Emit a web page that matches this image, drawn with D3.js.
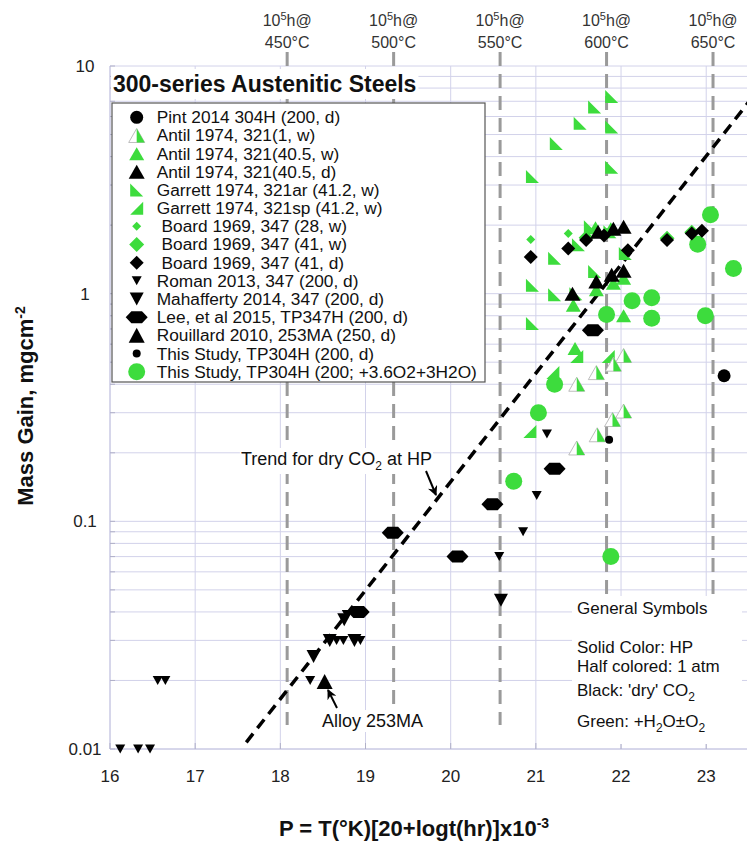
<!DOCTYPE html>
<html>
<head>
<meta charset="utf-8">
<script src="https://cdn.jsdelivr.net/npm/d3@7"></script>
<style>
  html, body { margin: 0; padding: 0; background: #fff; }
  svg { display: block; font-family: "Liberation Sans", Arial, Helvetica, sans-serif; }
</style>
</head>
<body>
<svg id="chart" width="747" height="845"></svg>
<script>
// Larson-Miller style parameter P against mass gain for 300-series steels in CO2

// ---- axis ticks ----
const xTicks = [16, 17, 18, 19, 20, 21, 22, 23];
const yTicks = [0.01, 0.1, 1, 10];
const yTickLabels = ["0.01", "0.1", "1", "10"];

// ---- 10^5 h iso-temperature markers ----
const isoTemps = ["450°C", "500°C", "550°C", "600°C", "650°C"];
const isoP = [18.08, 19.33, 20.58, 21.83, 23.08];

// ---- trend for dry CO2 at high pressure ----
const trendP = [17.6, 23.5];
const trendMass = [0.0107, 6.96];

// ---- series data: [P, mass gain mg/cm2] ----
const pint2014 = [[23.21, 0.436]];
const antil1w = [[22.03, 0.535], [21.91, 0.49], [21.71, 0.45], [21.48, 0.40],
                 [22.03, 0.305], [21.90, 0.28], [21.72, 0.24], [21.48, 0.21]];
const antil405w = [[21.44, 0.89], [21.91, 1.11], [22.03, 1.17], [22.03, 0.80],
                   [21.46, 0.575], [21.71, 1.04], [21.88, 1.93], [21.70, 1.95]];
const antil405d = [[22.03, 1.97], [21.91, 1.93], [21.73, 1.87], [21.89, 1.21],
                   [22.03, 1.26], [21.71, 1.13], [21.43, 1.00]];
const garrettAr = [[21.89, 7.35], [21.69, 6.6], [21.52, 5.6], [21.24, 4.57],
                   [21.89, 5.4], [21.89, 3.59], [20.96, 3.27], [21.22, 1.43],
                   [20.96, 1.09], [21.22, 0.99], [20.96, 0.74], [21.69, 1.25],
                   [21.64, 1.97], [21.50, 1.64], [21.87, 1.87], [22.05, 1.50], [21.47, 1.00]];
const garrettSp = [[20.93, 0.248], [21.20, 0.45], [21.85, 0.53], [21.48, 0.53]];
const board28w = [[20.94, 1.73], [21.38, 1.84]];
const board41w = [[22.54, 1.75], [22.83, 1.86], [21.59, 1.76]];
const board41d = [[20.94, 1.45], [21.38, 1.58], [21.59, 1.72], [21.80, 1.80],
                  [22.08, 1.55], [22.54, 1.72], [22.83, 1.84], [22.95, 1.89]];
const roman2013 = [[16.12, 0.01], [16.33, 0.01], [16.47, 0.01], [16.56, 0.02], [16.65, 0.02],
                   [18.35, 0.02], [18.66, 0.03], [18.74, 0.03], [18.94, 0.03], [18.78, 0.039],
                   [20.57, 0.07], [20.85, 0.09], [21.01, 0.13], [21.13, 0.242]];
const mahafferty2014 = [[18.39, 0.0255], [18.58, 0.03], [18.87, 0.03], [18.75, 0.037], [20.59, 0.045]];
const lee2015 = [[18.92, 0.04], [19.32, 0.089], [20.08, 0.07], [20.49, 0.119], [21.22, 0.17], [21.67, 0.69]];
const rouillard2010 = [[18.52, 0.0198]];
const studyDry = [[21.86, 0.228]];
const studyWet = [[20.74, 0.15], [21.03, 0.30], [21.22, 0.40], [21.88, 0.07], [21.83, 0.81],
                  [22.13, 0.93], [22.36, 0.96], [22.36, 0.78], [22.99, 0.80], [23.32, 1.29],
                  [22.90, 1.65], [23.05, 2.22]];

// ---- legend labels ----
const legendLabels = [
  "Pint 2014 304H (200, d)",
  "Antil 1974, 321(1, w)",
  "Antil 1974, 321(40.5, w)",
  "Antil 1974, 321(40.5, d)",
  "Garrett 1974, 321ar (41.2, w)",
  "Garrett 1974, 321sp (41.2, w)",
  " Board 1969, 347 (28, w)",
  " Board 1969, 347 (41, w)",
  " Board 1969, 347 (41, d)",
  "Roman 2013, 347 (200, d)",
  "Mahafferty 2014, 347 (200, d)",
  "Lee, et al 2015, TP347H (200, d)",
  "Rouillard 2010, 253MA (250, d)",
  "This Study, TP304H (200, d)",
  "This Study, TP304H (200; +3.6O2+3H2O)"
];

const GREEN = "#3ddc3d";
const BLACK = "#000";

// marker specs, in legend order
const series = [
  { data: pint2014,       shape: "circle",  w: 13, h: 13, fill: BLACK },
  { data: antil1w,        shape: "half",    w: 16, h: 14, fill: GREEN },
  { data: antil405w,      shape: "triUp",   w: 15, h: 13, fill: GREEN },
  { data: antil405d,      shape: "triUp",   w: 16, h: 14, fill: BLACK },
  { data: garrettAr,      shape: "triAr",   w: 13, h: 13, fill: GREEN },
  { data: garrettSp,      shape: "triSp",   w: 13, h: 13, fill: GREEN },
  { data: board28w,       shape: "diamond", w: 9,  h: 9,  fill: GREEN },
  { data: board41w,       shape: "diamond", w: 15, h: 15, fill: GREEN },
  { data: board41d,       shape: "diamond", w: 14, h: 14, fill: BLACK },
  { data: roman2013,      shape: "triDown", w: 10, h: 9,  fill: BLACK },
  { data: mahafferty2014, shape: "triDown", w: 14, h: 13, fill: BLACK },
  { data: lee2015,        shape: "hexagon", w: 22, h: 12, fill: BLACK },
  { data: rouillard2010,  shape: "triUp",   w: 16, h: 15, fill: BLACK },
  { data: studyDry,       shape: "circle",  w: 8,  h: 8,  fill: BLACK },
  { data: studyWet,       shape: "circle",  w: 17, h: 17, fill: GREEN }
];
// green marks first so the black ones sit on top
const drawOrder = [4, 5, 2, 1, 6, 7, 14, 0, 3, 8, 9, 10, 11, 12, 13];

function shapePath(shape, w, h) {
  const a = w / 2, b = h / 2;
  switch (shape) {
    case "circle": return `M${a},0A${a},${b},0,1,1,${-a},0A${a},${b},0,1,1,${a},0Z`;
    case "triUp": case "half": return `M0,${-b}L${a},${b}L${-a},${b}Z`;
    case "triDown": return `M${-a},${-b}L${a},${-b}L0,${b}Z`;
    case "triAr": return `M${-a},${-b}L${a},${b}L${-a},${b}Z`;
    case "triSp": return `M${a},${-b}L${a},${b}L${-a},${b}Z`;
    case "diamond": return `M0,${-b}L${a},0L0,${b}L${-a},0Z`;
    case "hexagon": {
      const k = b * 0.95;
      return `M${-a},0L${-a + k},${-b}L${a - k},${-b}L${a},0L${a - k},${b}L${-a + k},${b}Z`;
    }
  }
}
const halfRightPath = (w, h) => `M0,${-h / 2}L${w / 2},${h / 2}L0,${h / 2}Z`;

function drawMarker(sel, s) {
  if (s.shape === "half") {
    sel.append("path").attr("d", shapePath("triUp", s.w, s.h))
      .attr("fill", "#fff").attr("stroke", "#b5b5b5").attr("stroke-width", 0.9);
    sel.append("path").attr("d", halfRightPath(s.w, s.h)).attr("fill", s.fill);
  } else {
    sel.append("path").attr("d", shapePath(s.shape, s.w, s.h)).attr("fill", s.fill);
  }
}

// ---- layout & scales ----
const svg = d3.select("#chart");
const x = d3.scaleLinear().domain([16, 23.5]).range([110, 748.8]);
const y = d3.scaleLog().domain([0.01, 10]).range([749, 66]);
const GRID = "#d2d2ea";

// grid
const gGrid = svg.append("g");
const yGrid = [];
for (let e = -2; e <= 0; e++) for (let k = 1; k <= 9; k++) yGrid.push(k * Math.pow(10, e));
yGrid.push(10);
gGrid.selectAll("line.h").data(yGrid).join("line")
  .attr("x1", x.range()[0]).attr("x2", x.range()[1])
  .attr("y1", d => y(d)).attr("y2", d => y(d))
  .attr("stroke", GRID).attr("stroke-width", 1);
gGrid.selectAll("line.v").data(xTicks).join("line")
  .attr("x1", d => x(d)).attr("x2", d => x(d))
  .attr("y1", y.range()[1]).attr("y2", y.range()[0])
  .attr("stroke", GRID).attr("stroke-width", 1);
gGrid.append("line").attr("x1", 110).attr("x2", 110).attr("y1", 66).attr("y2", 749)
  .attr("stroke", "#c4c4e0");
gGrid.append("line").attr("x1", 110).attr("x2", 748).attr("y1", 749).attr("y2", 749)
  .attr("stroke", "#c4c4e0");
// inward tick marks
gGrid.selectAll("line.tx").data(xTicks).join("line")
  .attr("x1", d => x(d)).attr("x2", d => x(d)).attr("y1", 749).attr("y2", 743)
  .attr("stroke", "#b0b0c8");
gGrid.selectAll("line.ty").data(yGrid).join("line")
  .attr("x1", 110).attr("x2", 115).attr("y1", d => y(d)).attr("y2", d => y(d))
  .attr("stroke", "#b0b0c8");

// axis labels
const gAxis = svg.append("g").attr("fill", "#222").style("font-size", "17px");
gAxis.selectAll("text.x").data(xTicks).join("text")
  .attr("x", d => x(d)).attr("y", 782).attr("text-anchor", "middle").text(d => d);
gAxis.selectAll("text.y").data(yTicks).join("text")
  .attr("x", 85).attr("y", d => y(d) + 6).attr("text-anchor", "middle")
  .text((d, i) => yTickLabels[i]);

// iso-temperature dashed lines
const gIso = svg.append("g");
gIso.selectAll("line").data(isoP).join("line")
  .attr("x1", d => x(d)).attr("x2", d => x(d)).attr("y1", 52).attr("y2", 725)
  .attr("stroke", "#9a9a9a").attr("stroke-width", 3).attr("stroke-dasharray", "14,8");
const isoLab = gIso.selectAll("g.lab").data(isoP).join("g")
  .attr("transform", d => `translate(${x(d)},0)`)
  .style("font-size", "16px").attr("fill", "#333").attr("text-anchor", "middle");
const t1 = isoLab.append("text").attr("y", 26);
t1.append("tspan").text("10");
t1.append("tspan").attr("dy", -6).style("font-size", "11px").text("5");
t1.append("tspan").attr("dy", 6).text("h@");
isoLab.append("text").attr("y", 48).text((d, i) => isoTemps[i]);

// trend line
svg.append("path")
  .datum(trendP.map((p, i) => [p, trendMass[i]]))
  .attr("d", d3.line().x(d => x(d[0])).y(d => y(d[1])))
  .attr("fill", "none").attr("stroke", "#000").attr("stroke-width", 3.5)
  .attr("stroke-dasharray", "11,7");

// markers
const gMarks = svg.append("g");
drawOrder.forEach(i => {
  const s = series[i];
  gMarks.append("g").selectAll("g").data(s.data).join("g")
    .attr("transform", d => `translate(${x(d[0])},${y(d[1])})`)
    .each(function () { drawMarker(d3.select(this), s); });
});

// helper: text with white backing box
function backed(parent, build, pad) {
  const g = parent.append("g");
  const rect = g.append("rect").attr("fill", "#fff");
  const t = build(g);
  const bb = t.node().getBBox();
  rect.attr("x", bb.x - pad).attr("y", bb.y - pad)
    .attr("width", bb.width + 2 * pad).attr("height", bb.height + 2 * pad);
  return g;
}

// annotations
const defs = svg.append("defs");
defs.append("marker").attr("id", "arrow").attr("viewBox", "0 0 10 10")
  .attr("refX", 9).attr("refY", 5).attr("markerWidth", 5).attr("markerHeight", 5)
  .attr("orient", "auto")
  .append("path").attr("d", "M0,0L10,5L0,10L3,5Z").attr("fill", "#000");

backed(svg, g => {
  const t = g.append("text").attr("x", 432).attr("y", 465).attr("text-anchor", "end")
    .style("font-size", "18px").attr("fill", "#111");
  t.append("tspan").text("Trend for dry CO");
  t.append("tspan").attr("dy", 5).style("font-size", "12px").text("2");
  t.append("tspan").attr("dy", -5).text(" at HP");
  return t;
}, 1);
svg.append("line").attr("x1", 426).attr("y1", 471).attr("x2", 436).attr("y2", 495)
  .attr("stroke", "#000").attr("stroke-width", 2).attr("marker-end", "url(#arrow)");

backed(svg, g => g.append("text").attr("x", 322).attr("y", 727)
  .style("font-size", "18px").attr("fill", "#111").text("Alloy 253MA"), 1);
svg.append("line").attr("x1", 337).attr("y1", 708).attr("x2", 328).attr("y2", 690)
  .attr("stroke", "#000").attr("stroke-width", 2).attr("marker-end", "url(#arrow)");

// general symbol key (bottom right)
const keyLines = [
  { y: 614, parts: [["General Symbols"]] },
  { y: 653, parts: [["Solid Color: HP"]] },
  { y: 672, parts: [["Half colored: 1 atm"]] },
  { y: 696, parts: [["Black: 'dry' CO"], ["2", "sub"]] },
  { y: 727, parts: [["Green: +H"], ["2", "sub"], ["O±O"], ["2", "sub"]] }
];
svg.append("rect").attr("x", 572).attr("y", 596).attr("width", 170).attr("height", 148)
  .attr("fill", "#fff");
const gKey = svg.append("g").style("font-size", "17px").attr("fill", "#111");
keyLines.forEach(l => {
  const t = gKey.append("text").attr("x", 577).attr("y", l.y);
  let shifted = false;
  l.parts.forEach(p => {
    const ts = t.append("tspan").text(p[0]);
    if (p[1] === "sub") { ts.attr("dy", 5).style("font-size", "12px"); shifted = true; }
    else if (shifted) { ts.attr("dy", -5); shifted = false; }
  });
});

// title and legend
backed(svg, g => g.append("text").attr("x", 113).attr("y", 92)
  .style("font-size", "23px").style("font-weight", "bold").attr("fill", "#111")
  .text("300-series Austenitic Steels"), 2);

const gLeg = svg.append("g");
gLeg.append("rect").attr("x", 112).attr("y", 103).attr("width", 373).attr("height", 279)
  .attr("fill", "#fff").attr("stroke", "#555").attr("stroke-width", 1.2);
const rows = gLeg.selectAll("g.row").data(series).join("g")
  .attr("transform", (d, i) => `translate(0,${117.3 + i * 18.17})`);
rows.each(function (s) {
  const sym = d3.select(this).append("g").attr("transform", "translate(136.7,0)");
  drawMarker(sym, s);
});
rows.append("text").attr("x", 156.7).attr("y", 6).style("font-size", "17.3px")
  .style("white-space", "pre").attr("fill", "#111")
  .text((d, i) => legendLabels[i]);

// axis titles
const xt = svg.append("text").attr("x", 414).attr("y", 836).attr("text-anchor", "middle")
  .style("font-size", "22px").style("font-weight", "bold").attr("fill", "#111");
xt.append("tspan").text("P = T(°K)[20+logt(hr)]x10");
xt.append("tspan").attr("dy", -8).style("font-size", "14px").text("-3");

const yt = svg.append("text").attr("transform", "translate(33,406) rotate(-90)")
  .attr("text-anchor", "middle")
  .style("font-size", "22px").style("font-weight", "bold").attr("fill", "#111");
yt.append("tspan").text("Mass Gain, mgcm");
yt.append("tspan").attr("dy", -8).style("font-size", "14px").text("-2");
</script>
</body>
</html>
